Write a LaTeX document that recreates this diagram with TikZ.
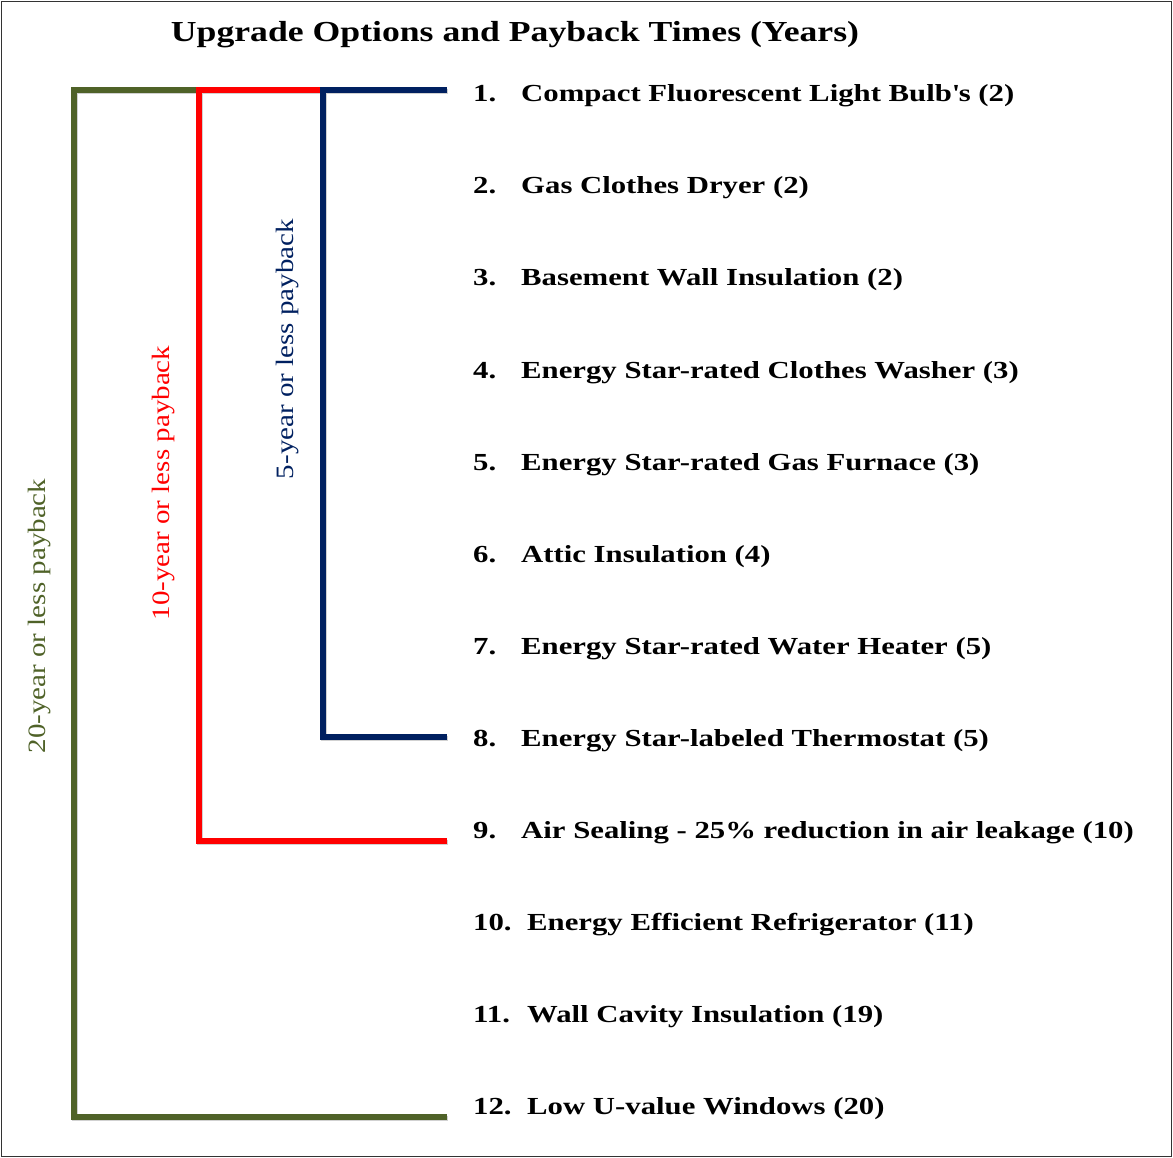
\documentclass[tikz,border=0pt]{standalone}
\usepackage{fontspec}
\setmainfont{Liberation Serif}
\newfontfamily\titlefont[FakeStretch=1.23]{Liberation Serif}
\newfontfamily\itemfont[FakeStretch=1.255]{Liberation Serif}
\newfontfamily\labelfont[FakeStretch=1.16]{Liberation Serif}
\definecolor{greenbar}{RGB}{79,98,40}
\definecolor{redbar}{RGB}{255,0,0}
\definecolor{navybar}{RGB}{0,32,96}
\begin{document}
\begin{tikzpicture}[
    x=1pt, y=-1pt,
    % Define styles
    bracket/.style={
        line width=5.5pt,
        preaction={draw=black!18, line width=5.5pt,
            transform canvas={shift={(1.2pt,-1.6pt)}}}
    },
    title/.style={
        font=\titlefont\fontsize{29}{34}\selectfont\bfseries,
        inner sep=0pt
    },
    itemnum/.style={
        font=\itemfont\fontsize{24.5}{29}\selectfont\bfseries,
        anchor=base west,
        inner sep=0pt
    },
    itemtext/.style={
        font=\itemfont\fontsize{24.5}{29}\selectfont\bfseries,
        anchor=base west,
        inner sep=0pt
    },
    payback/.style={
        font=\labelfont\fontsize{25}{30}\selectfont,
        rotate=90,
        inner sep=0pt
    }
]

% Frame
\useasboundingbox (0,0) rectangle (1173,1158);
\draw[black!80, line width=1.5pt] (1.5,1.5) rectangle (1171.5,1156.5);

% Title
\node[title] (title) at (515,35) {Upgrade Options and Payback Times (Years)};

% Upgrade options
\node[itemnum] (n1) at (473,102) {1.};
\node[itemtext] (i1) at (521,102) {Compact Fluorescent Light Bulb\textquotesingle s (2)};
\node[itemnum] (n2) at (473,194) {2.};
\node[itemtext] (i2) at (521,194) {Gas Clothes Dryer (2)};
\node[itemnum] (n3) at (473,286) {3.};
\node[itemtext] (i3) at (521,286) {Basement Wall Insulation (2)};
\node[itemnum] (n4) at (473,378) {4.};
\node[itemtext] (i4) at (521,378) {Energy Star-rated Clothes Washer (3)};
\node[itemnum] (n5) at (473,470) {5.};
\node[itemtext] (i5) at (521,470) {Energy Star-rated Gas Furnace (3)};
\node[itemnum] (n6) at (473,562) {6.};
\node[itemtext] (i6) at (521,562) {Attic Insulation (4)};
\node[itemnum] (n7) at (473,654) {7.};
\node[itemtext] (i7) at (521,654) {Energy Star-rated Water Heater (5)};
\node[itemnum] (n8) at (473,746) {8.};
\node[itemtext] (i8) at (521,746) {Energy Star-labeled Thermostat (5)};
\node[itemnum] (n9) at (473,838) {9.};
\node[itemtext] (i9) at (521,838) {Air Sealing - 25\% reduction in air leakage (10)};
\node[itemnum] (n10) at (473,930) {10.};
\node[itemtext] (i10) at (527,930) {Energy Efficient Refrigerator (11)};
\node[itemnum] (n11) at (473,1022) {11.};
\node[itemtext] (i11) at (527,1022) {Wall Cavity Insulation (19)};
\node[itemnum] (n12) at (473,1114) {12.};
\node[itemtext] (i12) at (527,1114) {Low U-value Windows (20)};

% Bracket corners
\coordinate (top20) at (199,90);
\coordinate (corner20a) at (74,90);
\coordinate (corner20b) at (74,1117);
\coordinate (end20) at (447,1117);
\coordinate (top10) at (323,90);
\coordinate (corner10a) at (199,90);
\coordinate (corner10b) at (199,841);
\coordinate (end10) at (447,841);
\coordinate (top5) at (447,90);
\coordinate (corner5a) at (323,90);
\coordinate (corner5b) at (323,737);
\coordinate (end5) at (447,737);

% Payback brackets
\draw[bracket, greenbar] (top20) -- (corner20a) -- (corner20b) -- (end20);
\draw[bracket, redbar] (top10) -- (corner10a) -- (corner10b) -- (end10);
\draw[bracket, navybar] (top5) -- (corner5a) -- (corner5b) -- (end5);

% Bracket labels
\node[payback, text=greenbar] (l20) at (40,616) {20-year or less payback};
\node[payback, text=redbar] (l10) at (164,483) {10-year or less payback};
\node[payback, text=navybar] (l5) at (288,349) {5-year or less payback};
\end{tikzpicture}
\end{document}
